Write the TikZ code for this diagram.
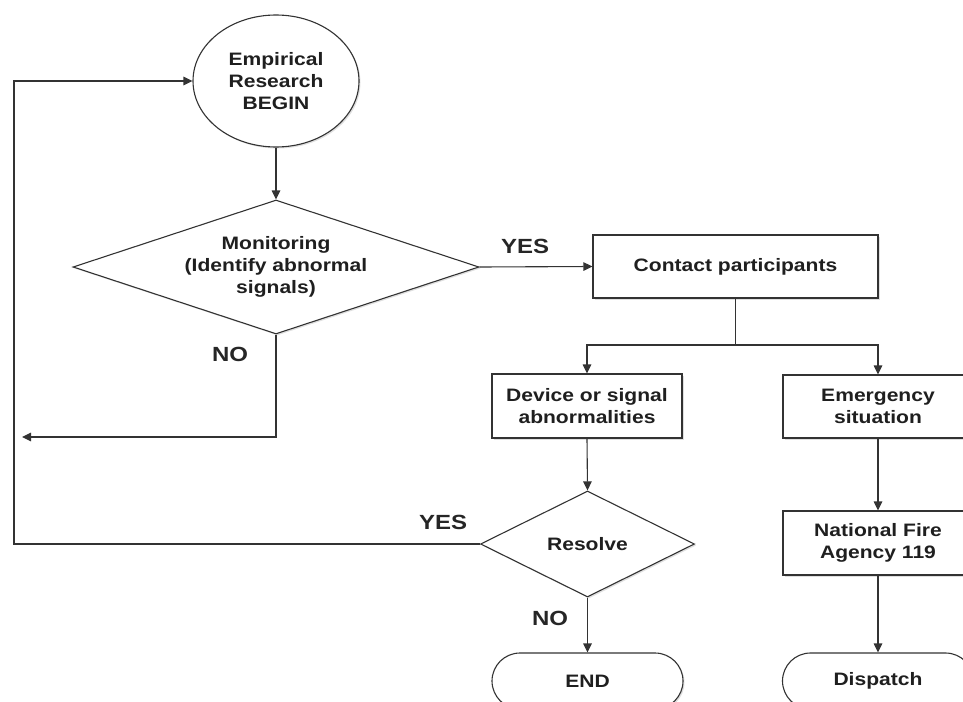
\documentclass[tikz,border=0pt]{standalone}
\usepackage{fontspec}
\setmainfont{Liberation Sans}[FakeStretch=1.17]
\usetikzlibrary{arrows.meta,shapes.geometric,shadows}
\definecolor{linec}{HTML}{333333}
\tikzset{
  shp/.style={draw=linec, line width=1.1pt, fill=white, inner sep=0pt, align=center,
    font=\fontsize{18}{22}\selectfont\bfseries, text=black!88,
    drop shadow={shadow xshift=1.5pt, shadow yshift=-1.5pt, opacity=0.25}},
  boxn/.style={shp, rectangle, minimum width=190pt, minimum height=63pt},
  termn/.style={shp, rectangle, rounded corners=28pt, minimum width=191pt, minimum height=56pt},
  decn/.style={shp, diamond},
  arr/.style={draw=linec, line width=1.1pt, -{Triangle[length=9pt,width=8.5pt]}},
  ln/.style={draw=linec, line width=1.1pt},
  lab/.style={font=\fontsize{20.5}{24}\selectfont\bfseries, text=black!85, inner sep=0pt}
}
\begin{document}
\begin{tikzpicture}[x=1pt, y=-1pt]
\useasboundingbox (0,0) rectangle (963,701);
\clip (0,0) rectangle (963,701);

\node[shp, ellipse, minimum width=166pt, minimum height=132pt] (begin) at (276,81)
  {Empirical\\Research\\BEGIN};
\node[decn, minimum width=406pt, minimum height=134pt, aspect=3] (mon) at (276,267)
  {Monitoring\\(Identify abnormal\\signals)};
\node[boxn, minimum width=285pt] (contact) at (735.5,266.5) {Contact participants};
\node[boxn, minimum height=64pt] (dev) at (587,406) {Device or signal\\abnormalities};
\node[boxn] (emg) at (878,406.5) {Emergency\\situation};
\node[decn, minimum width=214pt, minimum height=106pt, aspect=2] (res) at (587.5,544) {Resolve};
\node[boxn, minimum height=64pt] (nfa) at (878,543) {National Fire\\Agency 119};
\node[termn] (endn) at (587.5,681) {END};
\node[termn] (disp) at (878,681) {Dispatch};

\coordinate (split) at (735.5,345);
\coordinate (noend) at (22,437);
\coordinate (loopb) at (14,544);
\coordinate (loopt) at (14,81);

\draw[arr] (begin.south) -- (mon.north);
\draw[arr] (mon.east) -- (contact.west);
\draw[ln] (contact.south) -- (split);
\draw[arr] (split) -| (dev.north);
\draw[arr] (split) -| (emg.north);
\draw[arr] (mon.south) |- (noend);
\draw[arr] (dev.south) -- (res.north);
\draw[arr] (res.west) -- (loopb) -- (loopt) -- (begin.west);
\draw[arr] (res.south) -- (endn.north);
\draw[arr] (emg.south) -- (nfa.north);
\draw[arr] (nfa.south) -- (disp.north);

\node[lab] (yes1) at (525,246) {YES};
\node[lab] (no1) at (230,354) {NO};
\node[lab] (yes2) at (443,522) {YES};
\node[lab] (no2) at (550,618) {NO};
\end{tikzpicture}
\end{document}
